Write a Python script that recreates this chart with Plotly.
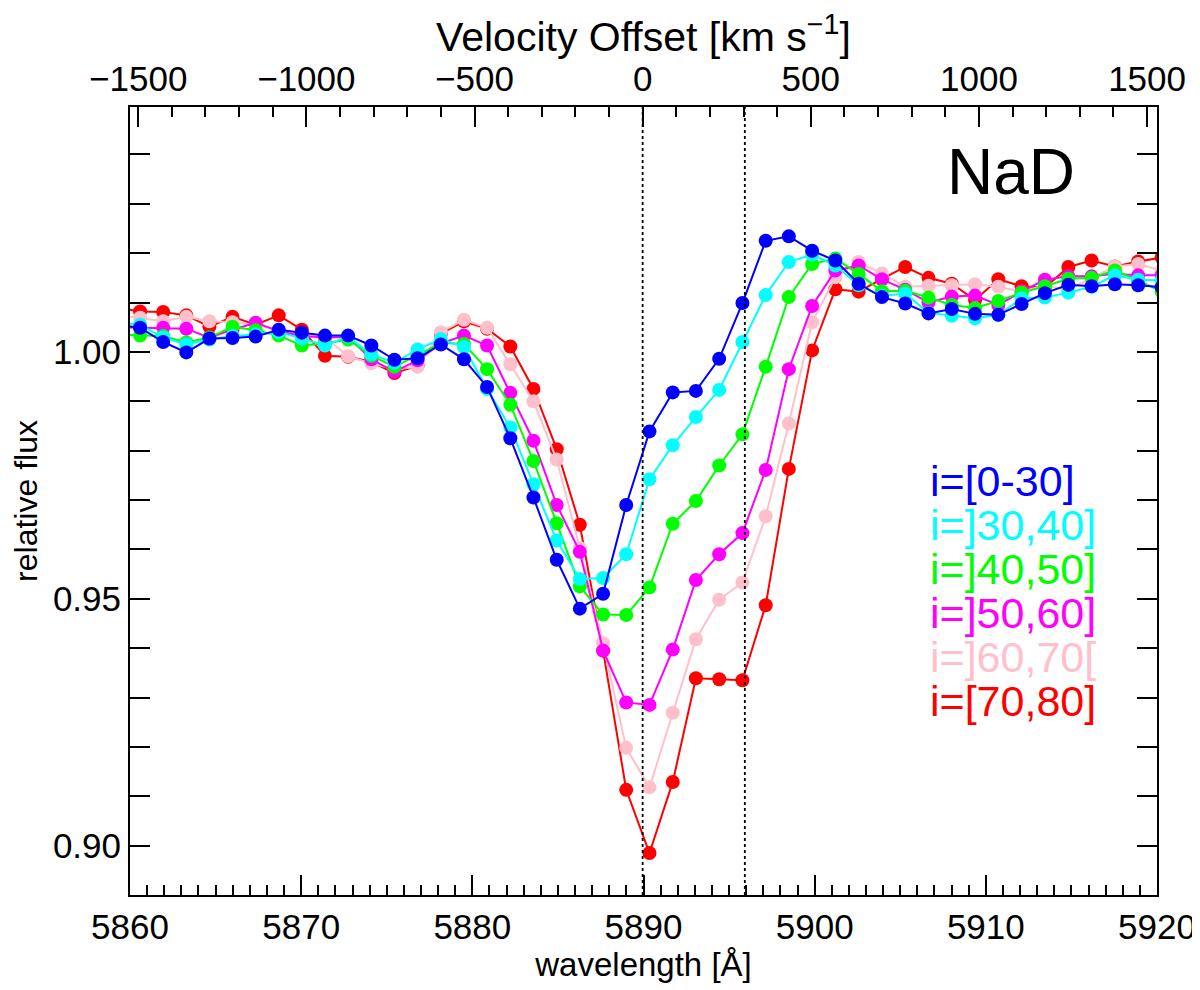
import plotly.graph_objects as go

# wavelength grid [A] (log-spaced spectrum pixels)
wave = [5859.24, 5860.59, 5861.94, 5863.29, 5864.64, 5865.99, 5867.34, 5868.69,
        5870.04, 5871.39, 5872.74, 5874.10, 5875.45, 5876.80, 5878.16, 5879.51,
        5880.86, 5882.22, 5883.57, 5884.93, 5886.28, 5887.64, 5888.99, 5890.35,
        5891.71, 5893.06, 5894.42, 5895.78, 5897.14, 5898.49, 5899.85, 5901.21,
        5902.57, 5903.93, 5905.29, 5906.65, 5908.01, 5909.37, 5910.73, 5912.09,
        5913.45, 5914.82, 5916.18, 5917.54, 5918.90, 5920.27]

flux_0_30 = [1.0055, 1.0049, 1.0020, 0.9999, 1.0027, 1.0028, 1.0031, 1.0045,
             1.0039, 1.0033, 1.0033, 1.0013, 0.9984, 0.9987, 1.0015, 0.9985,
             0.9929, 0.9825, 0.9705, 0.9579, 0.9480, 0.9510, 0.9690, 0.9839,
             0.9918, 0.9921, 0.9986, 1.0099, 1.0225, 1.0234, 1.0205, 1.0185,
             1.0138, 1.0111, 1.0098, 1.0078, 1.0087, 1.0077, 1.0075, 1.0097,
             1.0119, 1.0136, 1.0133, 1.0137, 1.0135, 1.0131]
flux_30_40 = [1.0060, 1.0055, 1.0029, 1.0015, 1.0025, 1.0032, 1.0035, 1.0040,
              1.0027, 1.0013, 1.0031, 0.9995, 0.9978, 1.0005, 1.0026, 1.0010,
              0.9925, 0.9847, 0.9732, 0.9618, 0.9540, 0.9542, 0.9590, 0.9742,
              0.9811, 0.9868, 0.9923, 1.0020, 1.0115, 1.0182, 1.0197, 1.0175,
              1.0135, 1.0113, 1.0118, 1.0079, 1.0073, 1.0068, 1.0075, 1.0108,
              1.0110, 1.0120, 1.0132, 1.0155, 1.0146, 1.0145]
flux_40_50 = [1.0035, 1.0033, 1.0032, 1.0019, 1.0029, 1.0051, 1.0044, 1.0033,
              1.0013, 1.0017, 1.0025, 0.9992, 0.9970, 0.9993, 1.0018, 1.0016,
              0.9965, 0.9893, 0.9779, 0.9653, 0.9525, 0.9468, 0.9467, 0.9523,
              0.9652, 0.9698, 0.9770, 0.9833, 0.9970, 1.0111, 1.0178, 1.0189,
              1.0158, 1.0123, 1.0124, 1.0110, 1.0095, 1.0089, 1.0103, 1.0120,
              1.0133, 1.0148, 1.0150, 1.0165, 1.0145, 1.0122]
flux_50_60 = [1.0050, 1.0049, 1.0049, 1.0047, 1.0029, 1.0045, 1.0059, 1.0042,
              1.0032, 1.0029, 1.0030, 0.9985, 0.9960, 0.9983, 1.0017, 1.0033,
              1.0013, 0.9917, 0.9820, 0.9690, 0.9595, 0.9395, 0.9290, 0.9285,
              0.9397, 0.9538, 0.9590, 0.9633, 0.9761, 0.9965, 1.0093, 1.0165,
              1.0175, 1.0147, 1.0126, 1.0100, 1.0112, 1.0114, 1.0095, 1.0122,
              1.0146, 1.0153, 1.0153, 1.0158, 1.0155, 1.0155]
flux_60_70 = [1.0075, 1.0069, 1.0062, 1.0071, 1.0062, 1.0060, 1.0055, 1.0045,
              1.0037, 1.0030, 0.9991, 0.9977, 0.9965, 0.9970, 1.0040, 1.0065,
              1.0049, 0.9975, 0.9900, 0.9782, 0.9603, 0.9410, 0.9198, 0.9118,
              0.9269, 0.9418, 0.9498, 0.9533, 0.9667, 0.9855, 1.0060, 1.0151,
              1.0182, 1.0159, 1.0132, 1.0134, 1.0135, 1.0137, 1.0132, 1.0122,
              1.0135, 1.0125, 1.0150, 1.0173, 1.0178, 1.0165]
flux_70_80 = [1.0090, 1.0082, 1.0081, 1.0074, 1.0051, 1.0071, 1.0055, 1.0074,
              1.0045, 0.9992, 0.9990, 0.9980, 0.9957, 0.9972, 1.0037, 1.0062,
              1.0047, 1.0011, 0.9925, 0.9803, 0.9650, 0.9395, 0.9113, 0.8985,
              0.9129, 0.9339, 0.9337, 0.9335, 0.9487, 0.9763, 1.0003, 1.0127,
              1.0122, 1.0148, 1.0172, 1.0150, 1.0138, 1.0105, 1.0147, 1.0133,
              1.0130, 1.0172, 1.0185, 1.0173, 1.0183, 1.0191]

labels = ["i=[0-30]", "i=]30,40]", "i=]40,50]", "i=]50,60]", "i=]60,70[", "i=[70,80]"]
colors = ["#0000ff", "#00ffff", "#00ff00", "#ff00ff", "#ffc0cb", "#ff0000"]
series = [flux_0_30, flux_30_40, flux_40_50, flux_50_60, flux_60_70, flux_70_80]

flux_ticks = [0.90, 0.95, 1.00]
nad_lines = [5889.95, 5895.92]   # NaD2, NaD1 rest wavelengths
lam0 = 5889.95
c_kms = 299792.458
wmin, wmax = 5860, 5920

FONT = "Liberation Sans, Arial, Helvetica, sans-serif"

fig = go.Figure()

# plot highest inclination first so blue ends on top
for lab, col, flux in reversed(list(zip(labels, colors, series))):
    fig.add_trace(go.Scatter(
        x=wave, y=flux, mode="lines+markers", name=lab,
        line=dict(color=col, width=2),
        marker=dict(color=col, size=14),
        showlegend=False,
    ))

for wl in nad_lines:
    fig.add_shape(type="line", xref="x", yref="paper", x0=wl, x1=wl, y0=0, y1=1,
                  line=dict(color="black", width=1.8, dash="dot"))

fig.add_annotation(text="NaD", xref="paper", yref="paper", x=0.794, y=0.918,
                   xanchor="left", yanchor="middle", showarrow=False,
                   font=dict(family=FONT, size=64, color="black"))

for n, (lab, col) in enumerate(zip(labels, colors)):
    fig.add_annotation(text=lab, xref="paper", yref="paper",
                       x=0.777, y=0.526 - n * 0.056,
                       xanchor="left", yanchor="middle", showarrow=False,
                       font=dict(family=FONT, size=43, color=col))

vmin = (wmin - lam0) / lam0 * c_kms
vmax = (wmax - lam0) / lam0 * c_kms

fig.update_layout(
    width=1200, height=990,
    margin=dict(l=120, r=48, t=89, b=103),
    paper_bgcolor="white", plot_bgcolor="white",
    font=dict(family=FONT, color="black"),
    xaxis=dict(
        range=[wmin, wmax], dtick=10, tick0=5860,
        showgrid=False, zeroline=False,
        showline=True, linecolor="black", linewidth=2, mirror=False,
        ticks="inside", ticklen=20, tickwidth=1.5, tickcolor="black",
        minor=dict(dtick=1, ticks="inside", ticklen=10, tickwidth=1.5, tickcolor="black"),
        tickfont=dict(size=35),
        title=dict(text="wavelength [Å]", font=dict(size=33), standoff=8),
    ),
    xaxis2=dict(
        overlaying="x", side="top", anchor="y",
        range=[vmin, vmax], dtick=500, tick0=0,
        showgrid=False, zeroline=False,
        showline=True, linecolor="black", linewidth=2,
        ticks="inside", ticklen=20, tickwidth=1.5, tickcolor="black",
        minor=dict(dtick=100, ticks="inside", ticklen=10, tickwidth=1.5, tickcolor="black"),
        tickfont=dict(size=35),
        title=dict(text="Velocity Offset [km s<sup>−1</sup>]", font=dict(size=41), standoff=10),
    ),
    yaxis=dict(
        range=[0.89, 1.0496], tickvals=flux_ticks, tickformat=".2f",
        showgrid=False, zeroline=False,
        showline=True, linecolor="black", linewidth=2, mirror="allticks",
        ticks="inside", ticklen=20, tickwidth=1.5, tickcolor="black",
        minor=dict(dtick=0.01, tick0=0.9, ticks="inside", ticklen=10, tickwidth=1.5,
                   tickcolor="black"),
        tickfont=dict(size=35),
        title=dict(text="relative flux", font=dict(size=32), standoff=10),
    ),
)

# dummy trace on the velocity axis so that the top axis is drawn
fig.add_trace(go.Scatter(x=[vmin, vmax], y=[None, None], xaxis="x2", yaxis="y",
                         mode="lines", showlegend=False, hoverinfo="skip"))

fig.write_html("out.html")
